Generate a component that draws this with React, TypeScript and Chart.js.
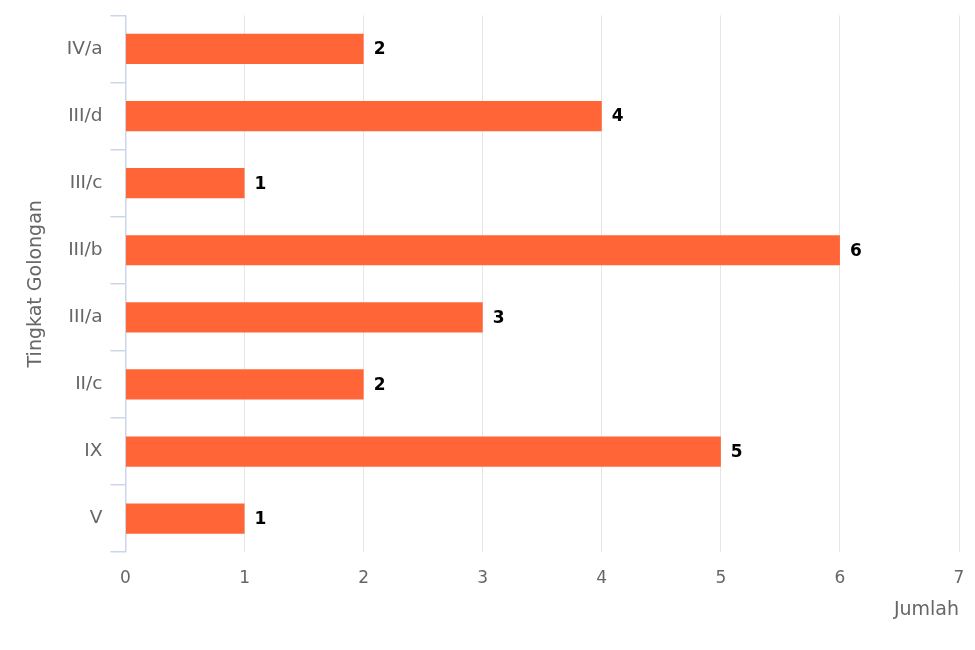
import React, { useEffect, useRef } from "react";
import { Chart, registerables } from "chart.js";

Chart.register(...registerables);

const categories = ["IV/a", "III/d", "III/c", "III/b", "III/a", "II/c", "IX", "V"];
const values = [2, 4, 1, 6, 3, 2, 5, 1];
const xTitle = "Jumlah";
const yTitle = "Tingkat Golongan";

const FONT = "'DejaVu Sans', sans-serif";

const labelPlugin = {
  id: "barValueLabels",
  afterDatasetsDraw(chart: any) {
    const ctx = chart.ctx;
    ctx.save();
    ctx.font = `bold 17px ${FONT}`;
    ctx.fillStyle = "#000000";
    ctx.textAlign = "left";
    ctx.textBaseline = "middle";
    chart.data.datasets.forEach((ds: any, di: number) => {
      const meta = chart.getDatasetMeta(di);
      meta.data.forEach((el: any, i: number) => {
        ctx.fillText(String(ds.data[i]), el.x + 10, el.y + 1);
      });
    });
    ctx.restore();
  },
};

export default function App() {
  const ref = useRef<HTMLCanvasElement>(null);
  useEffect(() => {
    document.body.style.margin = "0";
    const chart = new Chart(ref.current!, {
      type: "bar",
      data: {
        labels: categories,
        datasets: [
          {
            data: values,
            backgroundColor: "#ff6536",
            borderWidth: 0,
            barPercentage: 0.9,
            categoryPercentage: 0.5,
          },
        ],
      },
      plugins: [labelPlugin],
      options: {
        indexAxis: "y",
        animation: false,
        responsive: false,
        maintainAspectRatio: false,
        layout: { padding: { left: 25, right: 16, top: 0, bottom: 29 } },
        plugins: { legend: { display: false }, tooltip: { enabled: false } },
        scales: {
          x: {
            min: 0,
            max: 7,
            ticks: {
              stepSize: 1,
              color: "#666666",
              font: { family: FONT, size: 17, lineHeight: 2 },
              padding: 9,
            },
            grid: { color: "#e6e6e6", lineWidth: 1, drawTicks: false },
            border: { display: false },
            title: {
              display: true,
              text: xTitle,
              align: "end",
              color: "#666666",
              font: { family: FONT, size: 19 },
              padding: { top: -6, bottom: 0 },
            },
          },
          y: {
            ticks: {
              color: "#666666",
              font: { family: FONT, size: 18.5, lineHeight: 0.8 },
              padding: 8,
            },
            grid: {
              color: "#ccd6eb",
              lineWidth: 1.5,
              drawOnChartArea: false,
              drawTicks: true,
              tickLength: 15,
              offset: true,
            },
            border: { display: true, color: "#ccd6eb", width: 1.5 },
            title: {
              display: true,
              text: yTitle,
              color: "#666666",
              font: { family: FONT, size: 19 },
              padding: { top: 0, bottom: 11 },
            },
          },
        },
      },
    });
    return () => chart.destroy();
  }, []);
  return (
    <div style={{ width: 975, height: 650, background: "#ffffff" }}>
      <canvas ref={ref} width={975} height={650} style={{ width: 975, height: 650 }} />
    </div>
  );
}
